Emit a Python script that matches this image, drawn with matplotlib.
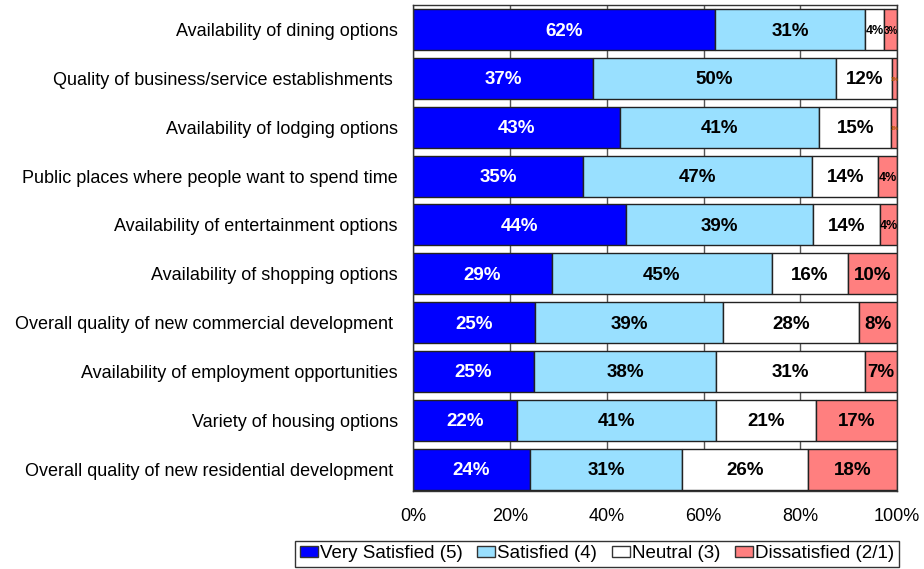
import matplotlib.pyplot as plt
from matplotlib.patches import Patch
import numpy as np

plt.rcParams['font.family'] = ['Liberation Sans', 'DejaVu Sans']

categories = [
    'Availability of dining options',
    'Quality of business/service establishments ',
    'Availability of lodging options',
    'Public places where people want to spend time',
    'Availability of entertainment options',
    'Availability of shopping options',
    'Overall quality of new commercial development ',
    'Availability of employment opportunities',
    'Variety of housing options',
    'Overall quality of new residential development ',
]

very_satisfied = [62.4, 37.2, 42.8, 35.1, 44.0, 28.7, 25.2, 25.0, 21.5, 24.2]
satisfied = [31.0, 50.2, 41.1, 47.3, 38.6, 45.4, 38.8, 37.6, 41.1, 31.4]
neutral = [3.9, 11.6, 14.9, 13.7, 13.8, 15.8, 28.1, 30.8, 20.7, 26.0]
dissatisfied = [2.7, 1.0, 1.2, 3.9, 3.6, 10.1, 7.9, 6.6, 16.7, 18.4]

series = [
    ('Very Satisfied (5)', very_satisfied, '#0000ff', 'white'),
    ('Satisfied (4)', satisfied, '#99e0ff', 'black'),
    ('Neutral (3)', neutral, 'white', 'black'),
    ('Dissatisfied (2/1)', dissatisfied, '#ff7f7f', 'black'),
]

fig = plt.figure(figsize=(9.24, 5.69), dpi=100)
ax = fig.add_axes([0.447, 0.137, 0.524, 0.854])

# vertical gridlines sit behind the bars, only showing in the gaps
ax.set_axisbelow(True)
ax.xaxis.grid(True, color='#555555', linewidth=1.0)

y = np.arange(len(categories))
left = np.zeros(len(categories))
for name, vals, color, txt in series:
    vals = np.array(vals)
    ax.barh(y, vals, left=left, height=0.84, color=color,
            edgecolor='#222222', linewidth=1.0, label=name)
    for yi, (l, v) in enumerate(zip(left, vals)):
        # shrink the label when the segment is narrow
        if v < 2:
            size, c = 4, '#aa5500'
        elif v < 3:
            size, c = 7, txt
        elif v < 5:
            size, c = 9, txt
        else:
            size, c = 13.5, txt
        ax.text(l + v / 2, yi + 0.03, f'{v:.0f}%', ha='center', va='center',
                fontsize=size, fontweight='bold', color=c)
    left += vals

ax.set_xlim(0, 100)
ax.set_ylim(9.45, -0.5)
ax.set_yticks(y)
ax.set_yticklabels(categories, fontsize=13)
ax.tick_params(axis='y', length=0, pad=11)
ax.set_xticks(np.arange(0, 101, 20))
ax.set_xticklabels([f'{t}%' for t in range(0, 101, 20)], fontsize=13)
ax.tick_params(axis='x', length=0, pad=12)
for s in ax.spines.values():
    s.set_linewidth(1.0)
    s.set_color('#333333')

handles = [Patch(facecolor=c, edgecolor='#333333', label=n) for n, _, c, _ in series]
leg = fig.legend(handles=handles, loc='lower center', bbox_to_anchor=(0.646, 0.0),
                 ncol=4, fontsize=13.5, frameon=True, fancybox=False,
                 handlelength=0.95, handleheight=0.55, handletextpad=0.1,
                 columnspacing=0.8, borderpad=0.25, borderaxespad=0.1,
                 edgecolor='black')
leg.get_frame().set_linewidth(1.0)

fig.savefig('out.png', dpi=100)
